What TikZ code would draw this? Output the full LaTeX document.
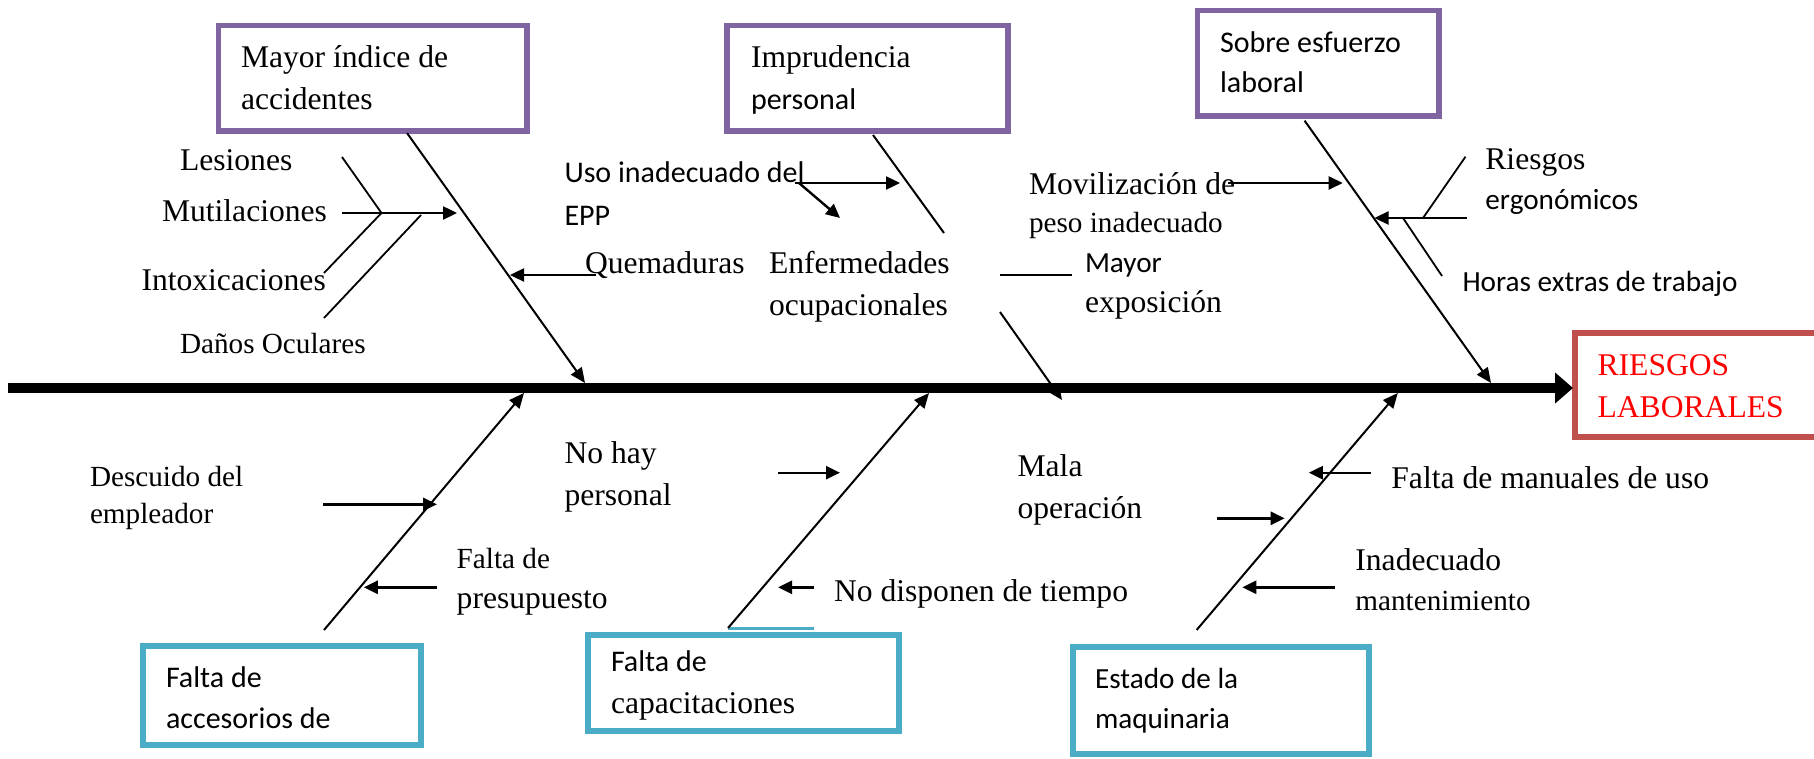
\documentclass[tikz,border=0pt]{standalone}
\usepackage{fontspec}
\setmainfont{Liberation Serif}
\newfontfamily\calibfam{Carlito}
\usetikzlibrary{arrows.meta}
\definecolor{boxpurple}{HTML}{8064A2}
\definecolor{boxblue}{HTML}{4BACC6}
\definecolor{boxred}{HTML}{C0504D}
\definecolor{txtred}{HTML}{FF0000}
\newcommand{\tmL}{\fontsize{15.8pt}{21pt}\selectfont}
\newcommand{\tmS}{\fontsize{14.6pt}{20pt}\selectfont}
\newcommand{\caL}{\calibfam\fontsize{15pt}{20pt}\selectfont}
\newcommand{\caS}{\calibfam\fontsize{14.6pt}{20pt}\selectfont}
\tikzset{
  lbl/.style={anchor=base west, inner sep=0pt, outer sep=0pt},
  pbox/.style={draw=boxpurple, line width=2.75pt, rectangle, inner sep=0pt, fill=white},
  bbox/.style={draw=boxblue, line width=3pt, rectangle, inner sep=0pt, fill=white},
  rbox/.style={draw=boxred, line width=2.75pt, rectangle, inner sep=0pt, fill=white},
  rib/.style={line width=1pt},
  ribarr/.style={line width=1pt, -{Triangle[length=7.5pt,width=6.5pt]}},
  sub/.style={line width=0.9pt},
  subarr/.style={line width=1.2pt, -{Triangle[length=7pt,width=6.5pt]}},
  spine/.style={line width=5.25pt, -{Triangle[length=9pt,width=15pt]}}
}
\begin{document}
\begin{tikzpicture}[x=0.5pt,y=-0.5pt]
\useasboundingbox (0,0) rectangle (1814,759);
% boxes
\node[pbox, minimum width=154.25pt, minimum height=52.65pt] (p1) at (372.75,78.35) {};
\node[pbox, minimum width=140.5pt, minimum height=52.65pt] (p2) at (867.5,78.35) {};
\node[pbox, minimum width=120.75pt, minimum height=52.85pt] (p3) at (1318.25,63.15) {};
\node[rbox, minimum width=126pt, minimum height=52pt] (eff) at (1701,385) {};
\node[bbox, minimum width=138.8pt, minimum height=49.5pt] (b1) at (282.2,695.5) {};
\node[bbox, minimum width=155.25pt, minimum height=48pt] (b2) at (743.25,683) {};
\node[bbox, minimum width=148pt, minimum height=53.5pt] (b3) at (1221,700.5) {};
\coordinate (b2tA) at (728,628.3);
\coordinate (b2tB) at (813.6,628.3);
\draw[boxblue, line width=1.5pt] (b2tA) -- (b2tB);

% box texts
\node[lbl] (p1a) at (241,68) {\tmL Mayor índice de};
\node[lbl] (p1b) at (241,110) {\tmL accidentes};
\node[lbl] (p2a) at (751,68) {\tmL Imprudencia};
\node[lbl] (p2b) at (751,110) {\caL personal};
\node[lbl] (p3a) at (1220,53) {\caL Sobre esfuerzo};
\node[lbl] (p3b) at (1220,93) {\caL laboral};
\node[lbl, text=txtred] (ea) at (1597.6,375) {\tmL RIESGOS};
\node[lbl, text=txtred] (eb) at (1597.6,417) {\tmL LABORALES};
\node[lbl] (b1a) at (166,687) {\caL Falta de};
\node[lbl] (b1b) at (166,728) {\caL accesorios de};
\node[lbl] (b2a) at (611,671.7) {\caL Falta de};
\node[lbl] (b2b) at (611,713) {\tmL capacitaciones};
\node[lbl] (b3a) at (1095,688) {\caS Estado de la};
\node[lbl] (b3b) at (1095,728) {\caS maquinaria};

% spine
\coordinate (spL) at (8,388);
\coordinate (spR) at (1573,388);
\draw[spine] (spL) -- (spR);

% ribs
\coordinate (t1s) at (407,133);   \coordinate (t1e) at (585,383);
\coordinate (t2s) at (873,135);   \coordinate (t2m) at (944,233);
\coordinate (t2n) at (1000,312);  \coordinate (t2e) at (1062,400);
\coordinate (t3s) at (1304.6,120.7); \coordinate (t3e) at (1491,383);
\coordinate (u1s) at (324,630);   \coordinate (u1e) at (524,393);
\coordinate (u2s) at (728,628);   \coordinate (u2e) at (929,393);
\coordinate (u3s) at (1196.6,630); \coordinate (u3e) at (1397.8,393);
\draw[ribarr] (t1s) -- (t1e);
\draw[rib] (t2s) -- (t2m);
\draw[ribarr] (t2n) -- (t2e);
\draw[ribarr] (t3s) -- (t3e);
\draw[ribarr] (u1s) -- (u1e);
\draw[ribarr] (u2s) -- (u2e);
\draw[ribarr] (u3s) -- (u3e);

% rib 1 (top left)
\node[lbl] (les) at (180,171) {\tmL Lesiones};
\node[lbl] (mut) at (162,222) {\tmL Mutilaciones};
\node[lbl] (int) at (141.5,291) {\tmL Intoxicaciones};
\node[lbl] (dan) at (180,353) {\tmS Daños Oculares};
\node[lbl] (que) at (585,273) {\tmL Quemaduras};
\coordinate (lesA) at (342,157); \coordinate (jn1) at (381.5,213);
\coordinate (mutA) at (342,213); \coordinate (mutB) at (457,213);
\coordinate (intB) at (324,273);
\coordinate (danA) at (421,215); \coordinate (danB) at (324,318);
\coordinate (queA) at (596,275); \coordinate (queB) at (510,275);
\draw[sub] (lesA) -- (jn1);
\draw[subarr] (mutA) -- (mutB);
\draw[sub] (jn1) -- (intB);
\draw[sub] (danA) -- (danB);
\draw[subarr] (queA) -- (queB);

% rib 2 (top middle)
\node[lbl] (uso) at (564.5,183) {\caL Uso inadecuado del};
\node[lbl] (epp) at (564.5,226) {\caL EPP};
\node[lbl] (enf) at (769,273) {\tmL Enfermedades};
\node[lbl] (ocu) at (769,315) {\tmL ocupacionales};
\node[lbl] (may) at (1085,272) {\caS Mayor};
\node[lbl] (exp) at (1085,313) {\tmL exposición};
\coordinate (usoA) at (794.6,183); \coordinate (usoB) at (900,183);
\coordinate (usoC) at (799,183); \coordinate (usoD) at (840,218);
\coordinate (mayA) at (999.7,275); \coordinate (mayB) at (1072,275);
\draw[subarr] (usoA) -- (usoB);
\draw[subarr] (usoC) -- (usoD);
\draw[line width=1.2pt] (mayA) -- (mayB);

% rib 3 (top right)
\node[lbl] (mov) at (1029,195) {\tmL Movilización de};
\node[lbl] (pes) at (1029,233) {\tmS peso inadecuado};
\node[lbl] (rie) at (1485.4,170) {\tmL Riesgos};
\node[lbl] (erg) at (1485.4,210) {\caS ergonómicos};
\node[lbl] (hor) at (1462.5,292) {\caS Horas extras de trabajo};
\coordinate (movA) at (1228,183); \coordinate (movB) at (1342.7,183);
\coordinate (rieA) at (1466.8,218); \coordinate (rieB) at (1374.5,218);
\coordinate (rieC) at (1465.5,156.7); \coordinate (rieD) at (1423,218);
\coordinate (horA) at (1403,218); \coordinate (horB) at (1442,276);
\draw[subarr] (movA) -- (movB);
\draw[subarr] (rieA) -- (rieB);
\draw[sub] (rieC) -- (rieD);
\draw[sub] (horA) -- (horB);

% bottom rib 1
\node[lbl] (des) at (90,486.7) {\tmS Descuido del};
\node[lbl] (emp) at (90,523) {\tmS empleador};
\node[lbl] (fdp) at (456.7,568) {\tmS Falta de};
\node[lbl] (pre) at (456.7,608) {\tmL presupuesto};
\coordinate (desA) at (323,504.3); \coordinate (desB) at (437,504.3);
\coordinate (preA) at (437,587.3); \coordinate (preB) at (363.8,587.3);
\draw[subarr] (desA) -- (desB);
\draw[subarr] (preA) -- (preB);

% bottom rib 2
\node[lbl] (noh) at (564.5,463) {\tmL No hay};
\node[lbl] (per) at (564.5,505) {\tmL personal};
\node[lbl] (nod) at (834,601.7) {\tmL No disponen de tiempo};
\coordinate (nohA) at (778,472.7); \coordinate (nohB) at (840,472.7);
\coordinate (nodA) at (813.6,587.3); \coordinate (nodB) at (778,587.3);
\draw[subarr] (nohA) -- (nohB);
\draw[subarr] (nodA) -- (nodB);

% bottom rib 3
\node[lbl] (mal) at (1017.6,476.7) {\tmL Mala};
\node[lbl] (ope) at (1017.6,518.3) {\tmL operación};
\node[lbl] (fma) at (1391.4,488) {\tmL Falta de manuales de uso};
\node[lbl] (ina) at (1355.4,570) {\tmL Inadecuado};
\node[lbl] (man) at (1355.4,610) {\tmS mantenimiento};
\coordinate (malA) at (1217,518.3); \coordinate (malB) at (1284.7,518.3);
\coordinate (fmaA) at (1371,472.7); \coordinate (fmaB) at (1308.8,472.7);
\coordinate (inaA) at (1335,587.3); \coordinate (inaB) at (1242.3,587.3);
\draw[subarr] (malA) -- (malB);
\draw[subarr] (fmaA) -- (fmaB);
\draw[subarr] (inaA) -- (inaB);
\end{tikzpicture}
\end{document}
